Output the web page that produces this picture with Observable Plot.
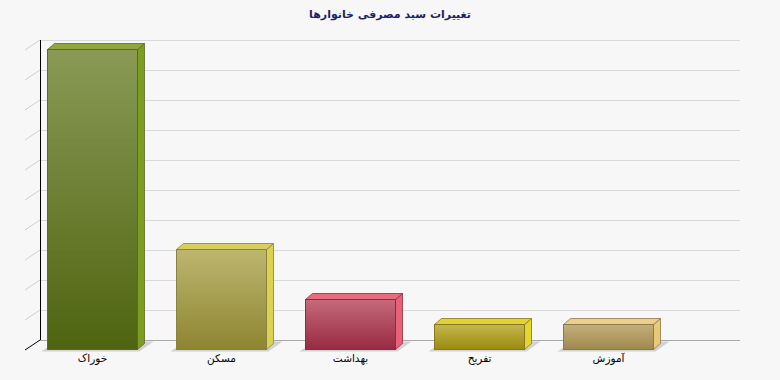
<!DOCTYPE html>
<html><head><meta charset="utf-8">
<script src="https://cdn.jsdelivr.net/npm/d3@7"></script>
<script src="https://cdn.jsdelivr.net/npm/@observablehq/plot@0.6"></script>
<style>
html,body{margin:0;padding:0;background:#f7f7f7;}
body{width:780px;height:380px;overflow:hidden;font-family:"DejaVu Sans",sans-serif;}
#title{height:30px;line-height:30px;text-align:center;font-weight:bold;font-size:11px;color:#1c1f6b;direction:rtl;}
#chart svg{display:block;background:transparent;}
</style></head><body>
<div id="title">تغییرات سبد مصرفی خانوارها</div>
<div id="chart"></div>
<script>
// ---- data ----
const categories = ["خوراک", "مسکن", "بهداشت", "تفریح", "آموزش"];
const values = [60, 20, 10, 5, 5];
const yTicks = [0, 6, 12, 18, 24, 30, 36, 42, 48, 54, 60];

// ---- styles ----
const frontTop    = ["#8a9a56", "#bdb66f", "#c66a7a", "#c5b74c", "#c5af7a"];
const frontBottom = ["#4e6410", "#8d8530", "#982a42", "#9a8b10", "#9d894d"];
const topColors   = ["#90a63c", "#d7cf5d", "#e96b82", "#e3d236", "#ebcf8d"];
const sideColors  = ["#7c9d22", "#dbd24f", "#e8607a", "#e6d52a", "#e9c878"];
const edgeColors  = ["#5b6a2c", "#8a8240", "#86303f", "#857a22", "#8a7a4e"];

const DX = 7, DY = -6;    // bar depth
const WX = 15, WY = -10;  // wall depth

const data = categories.map((c, i) => ({category: c, value: values[i], i}));

function wall(index, scales, vals, dims) {
  const g = d3.create("svg:g");
  const x0 = dims.marginLeft, xb = x0 + WX;
  for (const t of yTicks) {
    const yf = scales.y(t) + 1, yb = yf + WY;
    g.append("line")
      .attr("x1", x0).attr("y1", yf).attr("x2", xb).attr("y2", yb)
      .attr("stroke", t === 0 ? "#000" : "#cfcfcf").attr("stroke-width", 1);
  }
  g.append("line")
    .attr("x1", xb + 0.5).attr("x2", xb + 0.5)
    .attr("y1", scales.y(yTicks[yTicks.length - 1]) + 1 + WY)
    .attr("y2", scales.y(0) + 1 + WY)
    .attr("stroke", "#000").attr("stroke-width", 1);
  return g.node();
}

function bars3d(index, scales, vals, dims, context, next) {
  const g = next(index, scales, vals, dims, context);
  const rects = Array.from(g.querySelectorAll("rect"));
  const out = d3.create("svg:g");
  const defs = out.append("defs");
  const shadows = out.append("g");
  const bodies = out.append("g");
  rects.forEach((r, k) => {
    const i = data[r.__data__ !== undefined ? r.__data__ : index[k]].i;
    const x = Math.round(+r.getAttribute("x")) + 0.5;
    const y = Math.round(+r.getAttribute("y")) + 0.5;
    const w = Math.round(+r.getAttribute("width"));
    const h = Math.round(+r.getAttribute("height"));
    const yb = y + h;
    const gid = "grad" + i;
    const lg = defs.append("linearGradient").attr("id", gid)
      .attr("x1", 0).attr("y1", 0).attr("x2", 0).attr("y2", 1);
    lg.append("stop").attr("offset", "0%").attr("stop-color", frontTop[i]);
    lg.append("stop").attr("offset", "100%").attr("stop-color", frontBottom[i]);
    // floor shadow
    shadows.append("polygon")
      .attr("points", [[x - 6, yb + 2], [x + w + 2, yb + 2], [x + w + 16, yb - 8], [x + 8, yb - 8]].join(" "))
      .attr("fill", "#d2d2d2");
    // side face
    bodies.append("polygon")
      .attr("points", [[x + w, y], [x + w + DX, y + DY], [x + w + DX, yb + DY], [x + w, yb]].join(" "))
      .attr("fill", sideColors[i]).attr("stroke", edgeColors[i]).attr("stroke-width", 0.8);
    // top face
    bodies.append("polygon")
      .attr("points", [[x, y], [x + DX, y + DY], [x + w + DX, y + DY], [x + w, y]].join(" "))
      .attr("fill", topColors[i]).attr("stroke", edgeColors[i]).attr("stroke-width", 0.8);
    // front face
    bodies.append("rect")
      .attr("x", x).attr("y", y).attr("width", w).attr("height", h)
      .attr("fill", `url(#${gid})`).attr("stroke", edgeColors[i]).attr("stroke-width", 1);
  });
  return out.node();
}

const chart = Plot.plot({
  width: 780,
  height: 350,
  marginLeft: 25,
  marginRight: 55,
  marginTop: 19,
  marginBottom: 31,
  style: {background: "transparent", fontFamily: "DejaVu Sans, sans-serif", fontSize: "10px", color: "#000"},
  x: {domain: categories, range: [25, 675], paddingInner: 0.302, paddingOuter: 0.17},
  y: {domain: [0, 60], range: [319, 19]},
  marks: [
    Plot.ruleY(yTicks.filter(t => t !== 0), {dx: WX, dy: WY + 1, stroke: "#d9d9d9"}),
    Plot.ruleY([0], {dx: WX, dy: WY + 1, stroke: "#a8a8a8"}),
    wall,
    Plot.barY(data, {x: "category", y: "value", render: bars3d}),
    Plot.axisX({tickSize: 0, tickPadding: 5, fontSize: 10.5, fill: "#000", label: null}),
    Plot.axisY({ticks: [], label: null, tickSize: 0})
  ]
});
document.getElementById("chart").appendChild(chart);
</script>
</body></html>
